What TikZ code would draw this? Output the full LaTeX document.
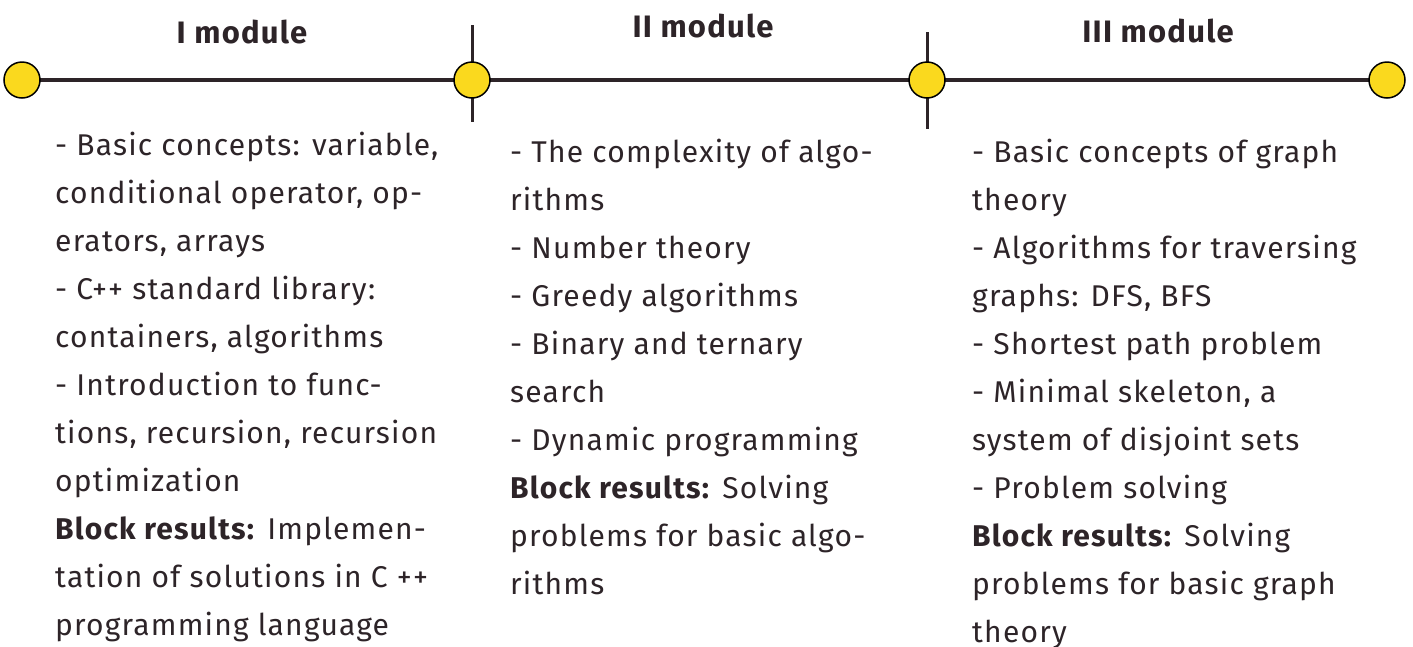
\documentclass[tikz,border=0pt]{standalone}
\usepackage{fontspec}
\setmainfont{Fira Sans}[LetterSpace=4]
\usetikzlibrary{positioning}
\definecolor{txt}{RGB}{45,36,40}
\definecolor{dotyellow}{RGB}{250,217,30}

\begin{document}
\begin{tikzpicture}[x=1pt, y=-1pt, text=txt, font=\fontsize{30}{48}\selectfont]
	\tikzstyle{dot}
	  =[draw=black, line width=1.5pt, fill=dotyellow, circle,
	  minimum size=36pt, inner sep=0pt]
	\tikzstyle{tick}=[draw=txt, line width=3pt]
	\tikzstyle{title}
	  =[font=\fontsize{31}{36}\selectfont\bfseries, anchor=base]
	\tikzstyle{block}=[align=left, anchor=north west, inner sep=0pt]

	\useasboundingbox (0,0) rectangle (1413,646);

	% time line
	\coordinate (p1) at (22,80);
	\coordinate (p2) at (472,80);
	\coordinate (p3) at (927,80);
	\coordinate (p4) at (1387,80);
	\draw[txt, line width=4pt] (p1) -- (p4);

	\coordinate (t2a) at (472,25);
	\coordinate (t2b) at (472,122);
	\coordinate (t3a) at (927,32);
	\coordinate (t3b) at (927,129);
	\draw[tick] (t2a) -- (t2b);
	\draw[tick] (t3a) -- (t3b);

	\node[dot] (d1) at (p1) {};
	\node[dot] (d2) at (p2) {};
	\node[dot] (d3) at (p3) {};
	\node[dot] (d4) at (p4) {};

	% module titles
	\node[title] (m1) at (242,43) {I module};
	\node[title] (m2) at (703,37) {II module};
	\node[title] (m3) at (1158,42) {III module};

	% module contents
	\node[block] (c1) at (55,132)
	  {- Basic concepts: variable,\\
	  conditional operator, op-\\
	  erators, arrays\\
	  - C++ standard library:\\
	  containers, algorithms\\
	  - Introduction to func-\\
	  tions, recursion, recursion\\
	  optimization\\
	  \textbf{Block results:} Implemen-\\
	  tation of solutions in C ++\\
	  programming language};
	\node[block] (c2) at (510,139)
	  {- The complexity of algo-\\
	  rithms\\
	  - Number theory\\
	  - Greedy algorithms\\
	  - Binary and ternary\\
	  search\\
	  - Dynamic programming\\
	  \textbf{Block results:} Solving\\
	  problems for basic algo-\\
	  rithms};
	\node[block] (c3) at (972,139)
	  {- Basic concepts of graph\\
	  theory\\
	  - Algorithms for traversing\\
	  graphs: DFS, BFS\\
	  - Shortest path problem\\
	  - Minimal skeleton, a\\
	  system of disjoint sets\\
	  - Problem solving\\
	  \textbf{Block results:} Solving\\
	  problems for basic graph\\
	  theory};
\end{tikzpicture}
\end{document}
